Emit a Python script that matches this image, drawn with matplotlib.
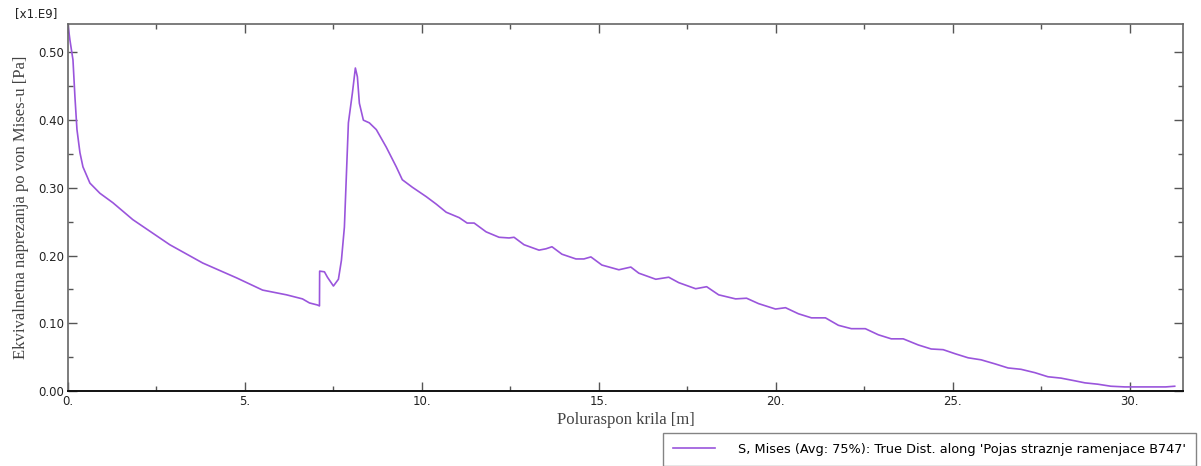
import matplotlib
matplotlib.use('Agg')
import matplotlib.pyplot as plt
from matplotlib.ticker import MultipleLocator, FuncFormatter

# distance along the spar [m] and von Mises stress [x1.E9 Pa]
dist = [0.0, 0.056, 0.141, 0.197, 0.254, 0.338, 0.423, 0.620, 0.902, 1.269,
        1.833, 2.312, 2.876, 3.806, 4.765, 5.498, 6.174, 6.625, 6.823, 7.048,
        7.105, 7.110, 7.245, 7.330, 7.499, 7.640, 7.725, 7.809, 7.922, 8.035,
        8.119, 8.176, 8.232, 8.345, 8.514, 8.711, 8.993, 9.275, 9.445, 9.726,
        10.121, 10.403, 10.685, 11.052, 11.277, 11.475, 11.813, 12.179, 12.461, 12.602,
        12.884, 13.307, 13.504, 13.673, 13.955, 14.350, 14.576, 14.773, 15.083, 15.563,
        15.901, 16.126, 16.606, 16.972, 17.254, 17.733, 18.043, 18.382, 18.861, 19.171,
        19.510, 19.989, 20.271, 20.637, 21.004, 21.399, 21.765, 22.131, 22.526, 22.893,
        23.259, 23.597, 24.020, 24.387, 24.725, 25.063, 25.430, 25.797, 26.191, 26.558,
        26.924, 27.319, 27.685, 28.052, 28.447, 28.729, 29.095, 29.462, 29.856, 30.589,
        31.012, 31.266]
mises = [0.541, 0.518, 0.489, 0.434, 0.386, 0.352, 0.331, 0.307, 0.292, 0.278,
         0.253, 0.236, 0.216, 0.189, 0.167, 0.149, 0.142, 0.136, 0.130, 0.127,
         0.1256, 0.177, 0.176, 0.168, 0.155, 0.165, 0.193, 0.242, 0.396, 0.440,
         0.477, 0.464, 0.425, 0.400, 0.396, 0.386, 0.360, 0.331, 0.312, 0.301,
         0.287, 0.276, 0.264, 0.256, 0.248, 0.248, 0.235, 0.227, 0.226, 0.227,
         0.216, 0.208, 0.210, 0.213, 0.202, 0.195, 0.195, 0.198, 0.186, 0.179,
         0.183, 0.174, 0.165, 0.168, 0.160, 0.151, 0.154, 0.142, 0.136, 0.137,
         0.129, 0.121, 0.123, 0.114, 0.108, 0.108, 0.097, 0.092, 0.092, 0.083,
         0.077, 0.077, 0.068, 0.062, 0.061, 0.055, 0.049, 0.046, 0.040, 0.034,
         0.032, 0.027, 0.021, 0.019, 0.015, 0.012, 0.010, 0.007, 0.006, 0.006,
         0.006, 0.007]

legend_label = "S, Mises (Avg: 75%): True Dist. along 'Pojas straznje ramenjace B747'"

fig = plt.figure(figsize=(12.01, 4.66), dpi=100)
ax = fig.add_axes([0.0566, 0.161, 0.9284, 0.7875])

line, = ax.plot(dist, mises, color='#9a55dc', lw=1.2, label=legend_label)

ax.set_xlim(0, 31.5)
ax.set_ylim(0, 0.542)

ax.xaxis.set_major_locator(MultipleLocator(5))
ax.xaxis.set_minor_locator(MultipleLocator(2.5))
ax.yaxis.set_major_locator(MultipleLocator(0.1))
ax.yaxis.set_minor_locator(MultipleLocator(0.05))
ax.xaxis.set_major_formatter(FuncFormatter(lambda v, p: '%d.' % round(v)))
ax.yaxis.set_major_formatter(FuncFormatter(lambda v, p: '%.2f' % v))

ax.tick_params(which='both', direction='in', top=True, right=True,
               color='#555555', labelsize=8.5, labelcolor='#222222', pad=3)
ax.tick_params(which='major', length=6.5, width=1.0)
ax.tick_params(which='minor', length=3.3, width=1.0)

for s in ['left', 'right', 'top']:
    ax.spines[s].set_color('#666666')
    ax.spines[s].set_linewidth(1.2)
ax.spines['bottom'].set_color('#111111')
ax.spines['bottom'].set_linewidth(1.4)

ax.set_xlabel('Poluraspon krila [m]', family='Liberation Serif', fontsize=12,
              color='#444444', labelpad=3)
ax.set_ylabel('Ekvivalnetna naprezanja po von Mises-u [Pa]', family='Liberation Serif',
              fontsize=12, color='#444444', labelpad=6)

fig.text(0.0125, 0.972, '[x1.E9]', fontsize=8.5, color='#222222', va='center')

leg = fig.legend(handles=[line], loc='lower right', bbox_to_anchor=(0.9955, 0.001),
                 fontsize=9.3, frameon=True, fancybox=False, handlelength=3.25,
                 handletextpad=1.8, borderpad=0.75, borderaxespad=0)
leg.get_frame().set_edgecolor('#666666')
leg.get_frame().set_linewidth(1.0)

fig.savefig('out.png', dpi=100)
